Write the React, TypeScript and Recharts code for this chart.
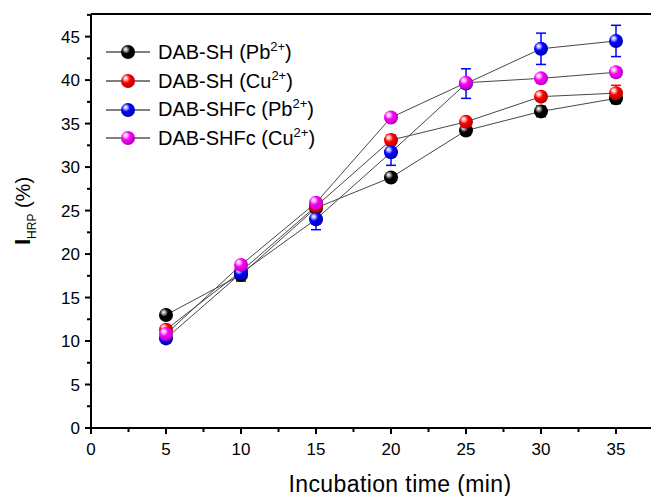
import React from 'react';
import { LineChart, Line, XAxis, YAxis, ErrorBar, ReferenceLine } from 'recharts';

// Incubation time (min)
const TIME = [5, 10, 15, 20, 25, 30, 35];

// I_HRP (%) per probe / metal ion
const SH_PB = [13.0, 17.6, 25.3, 28.8, 34.2, 36.4, 37.9];
const SH_CU = [11.3, 18.0, 25.5, 33.1, 35.2, 38.1, 38.5];
const SHFC_PB = [10.3, 17.8, 24.0, 31.7, 39.6, 43.6, 44.5];
const SHFC_CU = [10.8, 18.75, 25.9, 35.7, 39.7, 40.2, 40.9];

// error bars
const SH_PB_ERR = [0.3, 0.7, 0.4, 0.4, 0.5, 0.6, 0.6];
const SH_CU_ERR = [0.4, 0.4, 0.4, 0.6, 0.5, 0.5, 0.9];
const SHFC_PB_ERR = [0.4, 0.6, 1.2, 1.5, 1.7, 1.8, 1.8];

const X_TICKS = [0, 2.5, 5, 7.5, 10, 12.5, 15, 17.5, 20, 22.5, 25, 27.5, 30, 32.5, 35, 37.5];
const Y_TICKS = [0, 2.5, 5, 7.5, 10, 12.5, 15, 17.5, 20, 22.5, 25, 27.5, 30, 32.5, 35, 37.5, 40, 42.5, 45, 47.5];

const FONT = 'Arial, "Liberation Sans", Helvetica, sans-serif';

const SERIES = [
  { key: 'shPb', err: 'shPbErr', name: 'DAB-SH', ion: 'Pb', color: '#000000', light: '#b0b0b0', dark: '#000000' },
  { key: 'shCu', err: 'shCuErr', name: 'DAB-SH', ion: 'Cu', color: '#ff0000', light: '#ffc0c0', dark: '#b00000' },
  { key: 'shfcPb', err: 'shfcPbErr', name: 'DAB-SHFc', ion: 'Pb', color: '#0000ff', light: '#b8b8ff', dark: '#0000a8' },
  { key: 'shfcCu', err: null, name: 'DAB-SHFc', ion: 'Cu', color: '#ff00ff', light: '#ffc8ff', dark: '#b000b0' },
];

const rows = TIME.map((t, i) => ({
  time: t,
  shPb: SH_PB[i],
  shCu: SH_CU[i],
  shfcPb: SHFC_PB[i],
  shfcCu: SHFC_CU[i],
  shPbErr: SH_PB_ERR[i],
  shCuErr: SH_CU_ERR[i],
  shfcPbErr: SHFC_PB_ERR[i],
}));

type S = typeof SERIES[number];

function Sphere({ cx, cy, s, id, r = 7 }: { cx: number; cy: number; s: S; id: string; r?: number }) {
  return (
    <g>
      <defs>
        <radialGradient id={id} cx="0.4" cy="0.38" r="0.65" fx="0.32" fy="0.3">
          <stop offset="0%" stopColor="#ffffff" />
          <stop offset="18%" stopColor={s.light} />
          <stop offset="45%" stopColor={s.color} />
          <stop offset="100%" stopColor={s.dark} />
        </radialGradient>
      </defs>
      <circle cx={cx} cy={cy} r={r} fill={`url(#${id})`} />
    </g>
  );
}

const makeDot = (s: S) => (props: any) => {
  const { cx, cy, index } = props;
  if (cx == null || cy == null) return <g key={`d-${s.key}-${index}`} />;
  return <Sphere key={`d-${s.key}-${index}`} cx={cx} cy={cy} s={s} id={`grad-${s.key}-${index}`} />;
};

const XTick = (props: any) => {
  const { x, y, payload } = props;
  const major = payload.value % 5 === 0;
  return (
    <g>
      <line x1={x} x2={x} y1={y} y2={y + (major ? 6 : 4)} stroke="#000" strokeWidth={2} />
      {major && (
        <text x={x} y={y + 27} textAnchor="middle" fontSize={17} fontFamily={FONT} fill="#000">
          {payload.value}
        </text>
      )}
    </g>
  );
};

const YTick = (props: any) => {
  const { x, y, payload } = props;
  const major = payload.value % 5 === 0;
  return (
    <g>
      <line x1={x} x2={x - (major ? 6 : 4)} y1={y} y2={y} stroke="#000" strokeWidth={2} />
      {major && (
        <text x={x - 11} y={y + 6} textAnchor="end" fontSize={17} fontFamily={FONT} fill="#000">
          {payload.value}
        </text>
      )}
    </g>
  );
};

const YLabel = () => (
  <text transform="translate(30,211) rotate(-90)" textAnchor="middle" fontFamily={FONT} fill="#000">
    <tspan fontSize={22} fontWeight="bold">I</tspan>
    <tspan fontSize={12} dy={6}>HRP</tspan>
    <tspan fontSize={20} dy={-6}> (%)</tspan>
  </text>
);

const XLabel = () => (
  <text x={400} y={492} textAnchor="middle" fontSize={23} letterSpacing={0.4} fontFamily={FONT} fill="#000">
    Incubation time (min)
  </text>
);

function LegendBox() {
  return (
    <div style={{ position: 'absolute', left: 104, top: 38, fontFamily: FONT, fontSize: 20, color: '#000' }}>
      {SERIES.map((s) => (
        <div key={s.key} style={{ height: 28.7, display: 'flex', alignItems: 'center', whiteSpace: 'nowrap' }}>
          <svg width={50} height={28} style={{ display: 'block' }}>
            <line x1={2} x2={46} y1={14} y2={14} stroke="#000" strokeWidth={1} />
            <Sphere cx={24} cy={14} s={s} id={`lg-${s.key}`} />
          </svg>
          <span style={{ marginLeft: 4 }}>
            {s.name} ({s.ion}
            <span style={{ fontSize: 13, position: 'relative', top: -8 }}>2+</span>)
          </span>
        </div>
      ))}
    </div>
  );
}

export default function App() {
  return (
    <div style={{ position: 'absolute', left: 0, top: 0, width: 651, height: 496, overflow: 'hidden', background: '#fff' }}>
      <LineChart width={680} height={496} data={rows} margin={{ top: 14, right: 19, left: 0, bottom: 0 }}>
        <XAxis
          type="number"
          dataKey="time"
          domain={[0, 38]}
          ticks={X_TICKS}
          interval={0}
          tickSize={0}
          tickMargin={0}
          tickLine={false}
          tick={<XTick />}
          height={68}
          axisLine={{ stroke: '#000', strokeWidth: 2 }}
          label={<XLabel />}
        />
        <YAxis
          type="number"
          domain={[0, 47.6]}
          ticks={Y_TICKS}
          interval={0}
          tickSize={0}
          tickMargin={0}
          tickLine={false}
          tick={<YTick />}
          width={91}
          axisLine={{ stroke: '#000', strokeWidth: 2 }}
          label={<YLabel />}
        />
        <ReferenceLine y={47.6} stroke="#000" strokeWidth={2} />
        {SERIES.map((s) => (
          <Line
            key={s.key}
            type="linear"
            dataKey={s.key}
            stroke="#484848"
            strokeWidth={1}
            dot={makeDot(s)}
            activeDot={false}
            isAnimationActive={false}
          >
            {s.err && (
              <ErrorBar dataKey={s.err} width={5} stroke={s.color} strokeWidth={1.5} direction="y" isAnimationActive={false} />
            )}
          </Line>
        ))}
      </LineChart>
      <LegendBox />
    </div>
  );
}
